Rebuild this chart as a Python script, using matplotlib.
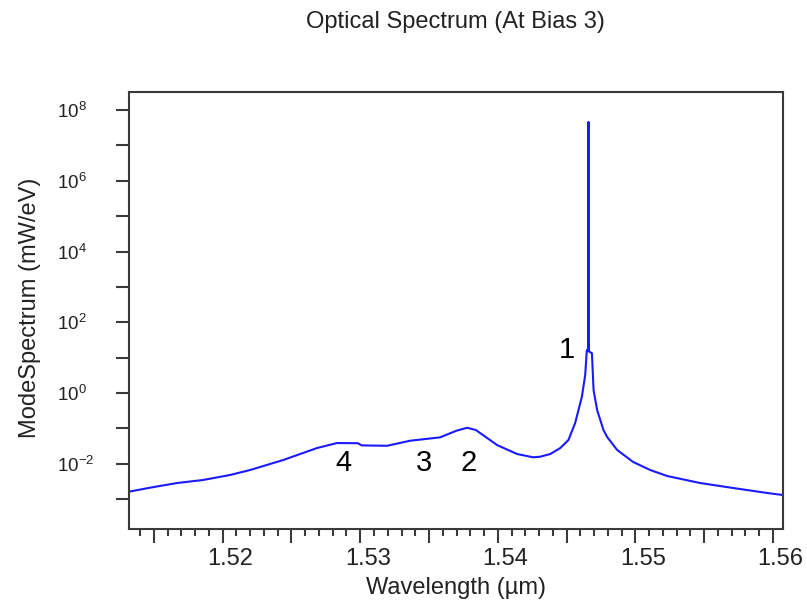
"""
Optical spectrum of the laser mode at bias point 3, on a log scale.
"""

import math
import matplotlib
matplotlib.use('Agg')
import matplotlib.pyplot as plt
from matplotlib.ticker import FixedLocator, MultipleLocator, FuncFormatter, NullLocator
from matplotlib.transforms import ScaledTranslation

# Spectrum samples (wavelength in um, spectrum in mW/eV).
wavelength = [
    1.51319, 1.51471, 1.51668, 1.51857, 1.52053, 1.52199, 1.52439, 1.52686,
    1.52831, 1.52984, 1.53010, 1.53195, 1.53362, 1.53580, 1.53700, 1.53777,
    1.53840, 1.53995, 1.54141, 1.54257, 1.54308, 1.54381, 1.54454, 1.54513,
    1.54562, 1.54611, 1.54635, 1.54647, 1.54658, 1.54659, 1.54661, 1.54684,
    1.54696, 1.54722, 1.54768, 1.54795, 1.54868, 1.54984, 1.55108, 1.55231,
    1.55471, 1.55711, 1.55958, 1.56068,
]
spectrum = [
    1.62e-3, 2.10e-3, 2.85e-3, 3.47e-3, 4.80e-3, 6.64e-3, 1.27e-2, 2.78e-2,
    3.85e-2, 3.80e-2, 3.30e-2, 3.22e-2, 4.47e-2, 5.57e-2, 8.6e-2, 1.04e-1,
    9.0e-2, 3.37e-2, 1.88e-2, 1.52e-2, 1.58e-2, 1.88e-2, 2.78e-2, 4.67e-2,
    1.41e-1, 7.80e-1, 3.2, 16.3, 16.3, 4.6e7, 15.0, 13.4,
    1.21, 3.29e-1, 8.95e-2, 5.68e-2, 2.44e-2, 1.12e-2, 6.64e-3, 4.50e-3,
    2.85e-3, 2.06e-3, 1.49e-3, 1.31e-3,
]

# Mode numbers and where they sit.
mode_labels = ['1', '2', '3', '4']
mode_x = [1.54505, 1.53791, 1.53460, 1.52875]
mode_y = [16.3, 0.0105, 0.0105, 0.0105]

x_limits = (1.51319, 1.56073)
y_limits = (10 ** -3.845, 10 ** 8.51)

plt.rcParams['font.family'] = ['Liberation Sans', 'DejaVu Sans']
plt.rcParams['mathtext.fontset'] = 'custom'
plt.rcParams['mathtext.rm'] = 'Liberation Sans'
plt.rcParams['mathtext.it'] = 'Liberation Sans:italic'
plt.rcParams['mathtext.bf'] = 'Liberation Sans:bold'
plt.rcParams['axes.unicode_minus'] = False

text_color = '#222222'
frame_color = '#3a3a3a'

fig = plt.figure(figsize=(8.07, 6.02), dpi=100)
ax = fig.add_axes([129 / 807, 1 - 529 / 602, (783 - 129) / 807, (529 - 92) / 602])

ax.plot(wavelength, spectrum, color='#1a1aff', lw=1.5)
ax.set_yscale('log')
ax.set_xlim(*x_limits)
ax.set_ylim(*y_limits)

# Frame.
for side in ax.spines.values():
    side.set_color(frame_color)
    side.set_linewidth(1.5)

# X axis: long ticks every 0.005, labels every 0.01, short ticks every 0.001.
def x_label(value, pos):
    if abs(value * 100 - round(value * 100)) < 1e-6:
        return '%.2f' % value
    return ''

ax.xaxis.set_major_locator(MultipleLocator(0.005))
ax.xaxis.set_minor_locator(MultipleLocator(0.001))
ax.xaxis.set_major_formatter(FuncFormatter(x_label))
ax.tick_params(axis='x', which='major', length=10, width=1.5, color=frame_color,
               labelsize=17, labelcolor=text_color, pad=4)
ax.tick_params(axis='x', which='minor', length=4.8, width=1.5, color=frame_color)

# Y axis: a tick every decade, labels on even decades.
def y_label(value, pos):
    exponent = int(round(math.log10(value)))
    if exponent % 2 == 0:
        return r'$10^{%d}$' % exponent
    return ''

ax.yaxis.set_major_locator(FixedLocator([10.0 ** e for e in range(-3, 9)]))
ax.yaxis.set_minor_locator(NullLocator())
ax.yaxis.set_major_formatter(FuncFormatter(y_label))
ax.tick_params(axis='y', which='major', length=9.6, width=1.5, color=frame_color,
               labelsize=13.5, labelcolor=text_color, pad=42.5)

# Mode number annotations.
for label, x, y in zip(mode_labels, mode_x, mode_y):
    ax.text(x, y, label, fontsize=21, color='black', ha='center', va='center')

fig.text(455 / 807, 1 - 22 / 602, 'Optical Spectrum (At Bias 3)', fontsize=17,
         color=text_color, ha='center', va='center')
fig.text(456 / 807, 1 - 588 / 602, 'Wavelength (\u00b5m)', fontsize=17,
         color=text_color, ha='center', va='center')
fig.text(30 / 807, 1 - 308 / 602, 'ModeSpectrum (mW/eV)', fontsize=17,
         color=text_color, ha='center', va='center', rotation=90)

fig.canvas.draw()
# Labels sit left-aligned on the y axis and a little right of their ticks on the x axis.
for lab in ax.get_yticklabels():
    lab.set_horizontalalignment('left')
shift = ScaledTranslation(7.5 / 100, 0, fig.dpi_scale_trans)
for lab in ax.get_xticklabels():
    lab.set_transform(lab.get_transform() + shift)

fig.savefig('out.png', dpi=100)
